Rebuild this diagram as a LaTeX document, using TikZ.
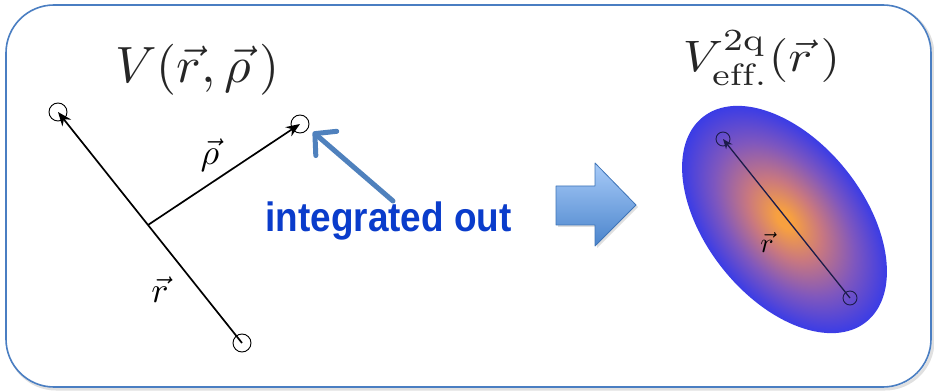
\documentclass[tikz,border=0pt]{standalone}
\usepackage{fontspec}
\usetikzlibrary{arrows.meta,shadows}
\newfontfamily\labelfont{Liberation Sans}
\definecolor{frameblue}{HTML}{4A7EC2}
\definecolor{callblue}{HTML}{4F81BD}
\definecolor{textblue}{HTML}{0A3CCB}
\definecolor{blockedge}{HTML}{3F75B8}
\definecolor{blocktop}{HTML}{A8CBF8}
\definecolor{blockbot}{HTML}{4A84CC}
\definecolor{glowc}{HTML}{F7A040}
\definecolor{glowm}{HTML}{C9787F}
\definecolor{glowp}{HTML}{7F57BE}
\definecolor{glowe}{HTML}{3A3CE6}
\definecolor{navy}{HTML}{1C1C4A}
\pgfdeclareradialshading{glow}{\pgfpoint{0bp}{0bp}}{color(0bp)=(glowc); color(2bp)=(glowc); color(9bp)=(glowm); color(17bp)=(glowp); color(25bp)=(glowe); color(50bp)=(glowe)}
\tikzset{
  endpt/.style={circle, draw=black, line width=0.9pt, minimum size=18pt, inner sep=0pt},
  smallpt/.style={circle, draw=navy, line width=0.9pt, minimum size=14pt, inner sep=0pt},
  vecline/.style={line width=1.7pt, -{Stealth[length=14pt,width=11pt]}},
  smallvec/.style={line width=1.3pt, draw=navy, -{Stealth[length=10pt,width=8pt]}},
  callout/.style={callblue, line width=5pt, line cap=round, -{Straight Barb[length=15pt,width=32pt,line cap=round,line join=round]}},
}
\begin{document}
\begin{tikzpicture}[x=1pt,y=1pt]
\useasboundingbox (0,0) rectangle (934,391);
% frame with soft shadow
\draw[black!12, line width=3pt, rounded corners=48pt] (8,2) rectangle (933,384);
\draw[frameblue, line width=1.6pt, rounded corners=48pt, fill=white] (6,4) rectangle (931,386);

% titles (bottom cut off as in the reference)
\begin{scope}
\clip (0,293) rectangle (500,391) (500,299) rectangle (934,391);
\node[anchor=base, text=black!85] (t1) at (197.5,308) {\scalebox{5.15}[5.1]{$V(\vec r,\vec\rho\,)$}};
\node[anchor=base, text=black!85] (t2) at (761.5,319) {\scalebox{5.0}[4.4]{$V^{\mathrm{2q}}_{\mathrm{eff.}}(\vec r\,)$}};
\end{scope}

% left diagram
\node[endpt] (c1) at (58,279) {};
\node[endpt] (c2) at (300,267) {};
\node[endpt] (c3) at (242,48) {};
\coordinate (j) at (148,166);
\draw[vecline] (c3.center) -- (c1.center);
\draw[vecline] (j) -- (c2.center);
\node (lrho) at (210,236) {\scalebox{3.6}{$\vec\rho$}};
\node (lr) at (160,101) {\scalebox{3.6}{$\vec r$}};

% integrated out
\node[anchor=base, text=textblue, font=\labelfont\bfseries\fontsize{41}{48}\selectfont] (io) at (388.5,159) {\scalebox{0.9}[1]{integrated out}};
\coordinate (callstart) at (393,190);
\coordinate (calltip) at (313,259);
\draw[callout] (callstart) -- (calltip);

% block arrow
\shade[top color=blocktop, bottom color=blockbot, draw=blockedge, line width=0.8pt, line join=round,
  drop shadow={shadow xshift=2pt, shadow yshift=-2pt, opacity=0.25}]
  (556,205) -- (595,205) -- (595,228) -- (636,186) -- (595,145) -- (595,166) -- (556,166) -- cycle;

% right diagram: shaded ellipse
\begin{scope}[transform canvas={shift={(784.5,171.5)}, rotate=-51.4}]
\shade[shading=glow] (0,0) ellipse (131 and 79);
\end{scope}
\node[smallpt] (e1) at (723,252) {};
\node[smallpt] (e2) at (850,93) {};
\draw[smallvec] (e2.center) -- (e1.center);
\node (er) at (767,149) {\scalebox{2.8}{$\vec r$}};
\end{tikzpicture}
\end{document}
